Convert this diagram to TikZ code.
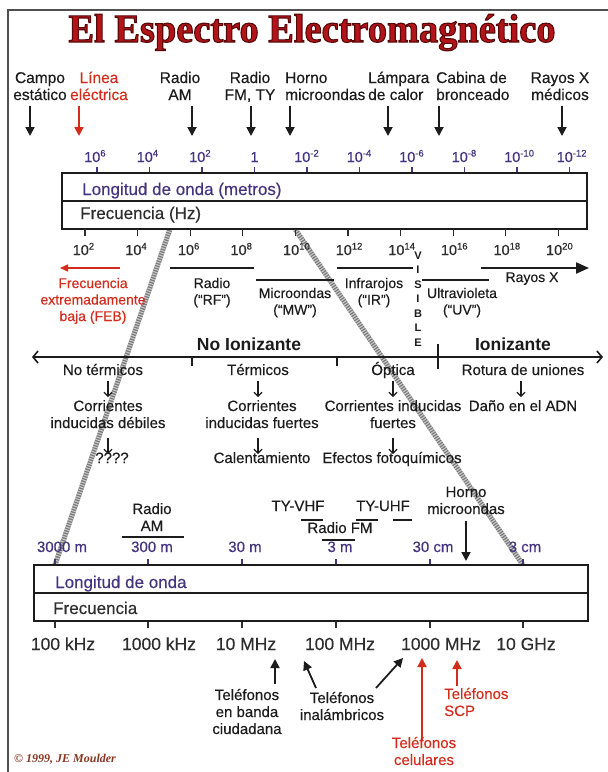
\documentclass[tikz,border=0pt]{standalone}
\usepackage{fontspec}
\setmainfont{Liberation Sans}[UprightFeatures={FakeBold=0.3}]
\newfontfamily\serifttl{Liberation Serif}
\usetikzlibrary{arrows.meta}
\definecolor{ink}{HTML}{1C1C1C}
\definecolor{wl}{HTML}{43357F}
\definecolor{fq}{HTML}{2E2E2E}
\definecolor{redt}{HTML}{D42C1C}
\definecolor{ttl}{HTML}{B31419}
\definecolor{framec}{HTML}{505050}
\definecolor{ropec}{HTML}{777777}
\definecolor{copyc}{HTML}{8A3520}
\newcommand{\sz}[2]{\fontsize{#1}{#2}\selectfont}
\newcommand{\tn}[1]{10\raisebox{5.5pt}{\sz{9.5}{10}#1}}
\newcommand{\ml}[1]{\begin{tabular}[t]{@{}c@{}}#1\end{tabular}}
\newcommand{\mll}[1]{\begin{tabular}[t]{@{}l@{}}#1\end{tabular}}
\newcommand{\ttltext}{\scalebox{0.96}[1]{\serifttl\bfseries\sz{40}{44}\special{pdf:literal direct 2 Tr 0.35 0.03 0.03 RG 1.1 w}El Espectro Electromagnético\special{pdf:literal direct 0 Tr}}}
\begin{document}
\begin{tikzpicture}[x=1pt,y=-1pt,
  lbl/.style={inner sep=0pt, text=ink, font=\sz{15.5}{17}, anchor=base},
  rowt/.style={inner sep=0pt, text=ink, font=\sz{15}{17}, anchor=base},
  bandt/.style={inner sep=0pt, text=ink, font=\sz{14}{16.5}, anchor=base},
  num/.style={inner sep=0pt, font=\sz{14.5}{16}, anchor=base west},
  boxt/.style={inner sep=0pt, font=\sz{17}{20}, anchor=base west},
  wlt/.style={inner sep=0pt, text=wl, font=\sz{15}{17}, anchor=base},
  fqt/.style={inner sep=0pt, text=fq, font=\sz{17.5}{20}, anchor=base},
  bold/.style={inner sep=0pt, text=ink, font=\bfseries\sz{17.5}{20}, anchor=base},
  arrT/.style={line width=1.8pt, -{Triangle[length=9pt,width=9pt]}},
  arrS/.style={line width=1.1pt, -{Straight Barb[length=4pt,width=8pt]}},
  barl/.style={line width=2pt, ink},
  tickst/.style={line width=1.1pt},
  boxl/.style={line width=1.8pt, ink},
  rope/.style={line width=5pt, ropec},
  ropehatch/.style={line width=5pt, white, opacity=0.6, dash pattern=on 1.1pt off 1.4pt},
  ttlsty/.style={inner sep=0pt, anchor=base},
]
\useasboundingbox (0,0) rectangle (608,772);
\fill[white] (0,0) rectangle (608,772);

% frame
\coordinate (fbl) at (8,772);
\coordinate (ftl) at (8,10);
\coordinate (ftr) at (608,10);
\draw[framec, line width=2pt] (fbl) -- (ftl) -- (ftr);

% title
\node[ttlsty, text=ttl] (title) at (312,42) {\ttltext};

% zoom ropes (behind text)
\coordinate (r1a) at (170,229);
\coordinate (r1b) at (55,565);
\coordinate (r2a) at (295,229);
\coordinate (r2b) at (523,565);
\draw[rope] (r1a) -- (r1b);
\draw[ropehatch] (r1a) -- (r1b);
\draw[rope] (r2a) -- (r2b);
\draw[ropehatch] (r2a) -- (r2b);

% top labels
\node[lbl] (campo) at (40,83) {\ml{Campo\\estático}};
\node[lbl, text=redt] (linea) at (99,83) {\ml{Línea\\eléctrica}};
\node[lbl] (radioam) at (180,83) {\ml{Radio\\AM}};
\node[lbl] (radiofm) at (250,83) {\ml{Radio\\FM, TY}};
\node[lbl, anchor=base west] (horno) at (285,83) {\mll{Horno\\microondas}};
\node[lbl, anchor=base west] (lampara) at (368,83) {\mll{Lámpara\\de calor}};
\node[lbl, anchor=base west] (cabina) at (436,83) {\mll{Cabina de\\bronceado}};
\node[lbl] (rayosmed) at (560,83) {\ml{Rayos X\\médicos}};

\foreach \ax/\nm in {30/a, 192/c, 251/d, 290/e, 388/f, 439/g, 562/h}{
  \coordinate (ta\nm) at (\ax,106);
  \coordinate (tb\nm) at (\ax,136);
  \draw[arrT, ink] (ta\nm) -- (tb\nm);
}
\coordinate (tab) at (79,106);
\coordinate (tbb) at (79,136);
\draw[arrT, redt] (tab) -- (tbb);

% top wavelength numbers
\foreach \e/\i in {6/0, 4/1, 2/2, -2/4, -4/5, -6/6, -8/7, -10/8, -12/9}{
  \node[num, text=wl] (tw\i) at ({97+52.5*\i-13},162) {\tn{\e}};
}
\node[num, text=wl, anchor=base] (tw3) at (254.5,162) {1};
\foreach \i in {0,...,9}{
  \coordinate (twa\i) at ({97+52.5*\i},167);
  \coordinate (twb\i) at ({97+52.5*\i},173);
  \draw[tickst, wl] (twa\i) -- (twb\i);
}

% upper box
\coordinate (bA1) at (62,173);
\coordinate (bA2) at (587,229);
\coordinate (bAd1) at (62,201);
\coordinate (bAd2) at (587,201);
\draw[boxl] (bA1) rectangle (bA2);
\draw[boxl, line width=1.4pt] (bAd1) -- (bAd2);
\node[boxt, text=wl] (lonA) at (82,195) {Longitud de onda (metros)};
\node[boxt, text=fq] (freA) at (80,219) {Frecuencia (Hz)};

% bottom frequency numbers
\foreach \e [count=\i from 0] in {2,4,6,8,10,12,14,16,18,20}{
  \coordinate (tfa\i) at ({85+52.6*\i},229);
  \coordinate (tfb\i) at ({85+52.6*\i},236);
  \draw[tickst, fq] (tfa\i) -- (tfb\i);
  \node[num, text=fq] (tf\i) at ({85+52.6*\i-12.5},255) {\tn{\e}};
}

% bands
\coordinate (feb1) at (120,268);
\coordinate (feb2) at (60,268);
\draw[redt, line width=1.5pt, -{Triangle[length=8pt,width=7pt]}] (feb1) -- (feb2);
\node[bandt, text=redt] (febt) at (93,288) {\ml{Frecuencia\\extremadamente\\baja (FEB)}};
\coordinate (rf1) at (170,268); \coordinate (rf2) at (254,268);
\draw[barl, line width=1.5pt] (rf1) -- (rf2);
\node[bandt] (rft) at (212,288) {\ml{Radio\\(“RF”)}};
\coordinate (mw1) at (256,280); \coordinate (mw2) at (334,280);
\draw[barl, line width=1.5pt] (mw1) -- (mw2);
\node[bandt] (mwt) at (295,298) {\ml{Microondas\\(“MW”)}};
\coordinate (ir1) at (337,268); \coordinate (ir2) at (413,268);
\draw[barl, line width=1.5pt] (ir1) -- (ir2);
\node[bandt] (irt) at (374,288) {\ml{Infrarojos\\(“IR”)}};
\coordinate (uv1) at (422,280); \coordinate (uv2) at (489,280);
\draw[barl, line width=1.5pt] (uv1) -- (uv2);
\node[bandt] (uvt) at (462,298) {\ml{Ultravioleta\\(“UV”)}};
\coordinate (x1) at (481,268); \coordinate (x2) at (589,268);
\draw[ink, line width=2pt, -{Triangle[length=13pt,width=11pt]}] (x1) -- (x2);
\node[bandt] (xt) at (532,282) {Rayos X};
\foreach \l [count=\k from 0] in {V,I,S,I,B,L,E}{
  \node[inner sep=0pt, anchor=base, text=ink, font=\bfseries\sz{11}{12}] (vis\k) at (418,{259+14.5*\k}) {\l};
}

% ionizing axis
\coordinate (axL) at (32,357);
\coordinate (axR) at (603,357);
\draw[ink, line width=1.6pt, {Straight Barb[length=5pt,width=12pt]}-{Straight Barb[length=5pt,width=12pt]}] (axL) -- (axR);
\foreach \tx/\ty/\tz [count=\k] in {192/357/366, 337/357/366, 438/344/369}{
  \coordinate (ia\k) at (\tx,\ty); \coordinate (ib\k) at (\tx,\tz);
  \draw[ink, line width=1.4pt] (ia\k) -- (ib\k);
}
\node[bold] (noion) at (249,350) {No Ionizante};
\node[bold] (ion) at (513,350) {Ionizante};

\node[rowt] (r1a) at (103,375) {No térmicos};
\node[rowt] (r1b) at (258,375) {Térmicos};
\node[rowt] (r1c) at (393,375) {Óptica};
\node[rowt] (r1d) at (523,375) {Rotura de uniones};
\foreach \ax/\nm in {108/a, 258/b, 393/c, 521/d}{
  \coordinate (sa\nm) at (\ax,381); \coordinate (sb\nm) at (\ax,397);
  \draw[arrS, ink] (sa\nm) -- (sb\nm);
}
\node[rowt] (r2a) at (108,411) {\ml{Corrientes\\inducidas débiles}};
\node[rowt] (r2b) at (262,411) {\ml{Corrientes\\inducidas fuertes}};
\node[rowt] (r2c) at (393,411) {\ml{Corrientes inducidas\\fuertes}};
\node[rowt] (r2d) at (523,411) {Daño en el ADN};
\foreach \ax/\nm in {108/a, 258/b, 393/c}{
  \coordinate (ua\nm) at (\ax,438); \coordinate (ub\nm) at (\ax,454);
  \draw[arrS, ink] (ua\nm) -- (ub\nm);
}
\node[rowt] (r3a) at (112,463) {????};
\node[rowt] (r3b) at (262,463) {Calentamiento};
\node[rowt] (r3c) at (392,463) {Efectos fotoquímicos};

% lower section labels
\node[rowt] (lam) at (152,514) {\ml{Radio\\AM}};
\coordinate (am1) at (122,537); \coordinate (am2) at (184,537);
\draw[barl] (am1) -- (am2);
\node[rowt] (vhf) at (298,511) {TY-VHF};
\coordinate (v1) at (301,520); \coordinate (v2) at (323,520);
\draw[barl] (v1) -- (v2);
\node[rowt] (uhf) at (383,511) {TY-UHF};
\coordinate (u1) at (356,520); \coordinate (u2) at (378,520);
\draw[barl] (u1) -- (u2);
\coordinate (u3) at (393,520); \coordinate (u4) at (412,520);
\draw[barl] (u3) -- (u4);
\node[rowt] (fm) at (340,533) {Radio FM};
\coordinate (fm1) at (322,540); \coordinate (fm2) at (355,540);
\draw[barl] (fm1) -- (fm2);
\node[rowt] (lhorno) at (466,497) {\ml{Horno\\microondas}};
\coordinate (lh1) at (466,521); \coordinate (lh2) at (466,561);
\draw[arrT, ink] (lh1) -- (lh2);

\foreach \t/\tx/\lx [count=\k] in {3000 m/55/62, 300 m/148/152, 30 m/242/245, 3 m/336/340, 30 cm/430/433, 3 cm/523/525}{
  \node[wlt] (lw\k) at (\lx,552) {\t};
  \coordinate (lwa\k) at (\tx,559); \coordinate (lwb\k) at (\tx,565);
  \draw[tickst, wl] (lwa\k) -- (lwb\k);
  \coordinate (lfa\k) at (\tx,621); \coordinate (lfb\k) at (\tx,628);
  \draw[tickst, fq] (lfa\k) -- (lfb\k);
}

% lower box
\coordinate (bB1) at (34,565);
\coordinate (bB2) at (588,621);
\coordinate (bBd1) at (34,593);
\coordinate (bBd2) at (588,593);
\draw[boxl] (bB1) rectangle (bB2);
\draw[boxl, line width=1.4pt] (bBd1) -- (bBd2);
\node[boxt, text=wl] (lonB) at (55,588) {Longitud de onda};
\node[boxt, text=fq] (freB) at (53,614) {Frecuencia};

\foreach \t/\lx [count=\k] in {100 kHz/63, 1000 kHz/159, 10 MHz/246, 100 MHz/340, 1000 MHz/441, 10 GHz/526}{
  \node[fqt] (lf\k) at (\lx,650) {\t};
}

% phones
\coordinate (p1a) at (275,684); \coordinate (p1b) at (275,659);
\draw[arrT, ink] (p1a) -- (p1b);
\node[rowt] (cb) at (247,700) {\ml{Teléfonos\\en banda\\ciudadana}};
\coordinate (p2a) at (316,688); \coordinate (p2b) at (304,661);
\draw[arrT, ink] (p2a) -- (p2b);
\coordinate (p3a) at (376,688); \coordinate (p3b) at (403,658);
\draw[arrT, ink] (p3a) -- (p3b);
\node[rowt] (inal) at (342,703) {\ml{Teléfonos\\inalámbricos}};
\coordinate (p4a) at (422,740); \coordinate (p4b) at (422,658);
\draw[arrT, redt] (p4a) -- (p4b);
\node[rowt, text=redt] (cel) at (424,748) {\ml{Teléfonos\\celulares}};
\coordinate (p5a) at (457,686); \coordinate (p5b) at (457,660);
\draw[arrT, redt] (p5a) -- (p5b);
\node[rowt, text=redt, anchor=base west] (scp) at (444,699) {\mll{Teléfonos\\SCP}};

\node[inner sep=0pt, anchor=base west, text=copyc, font=\serifttl\bfseries\itshape\sz{12}{13}] (copy) at (14,762) {© 1999, JE Moulder};
\end{tikzpicture}
\end{document}
